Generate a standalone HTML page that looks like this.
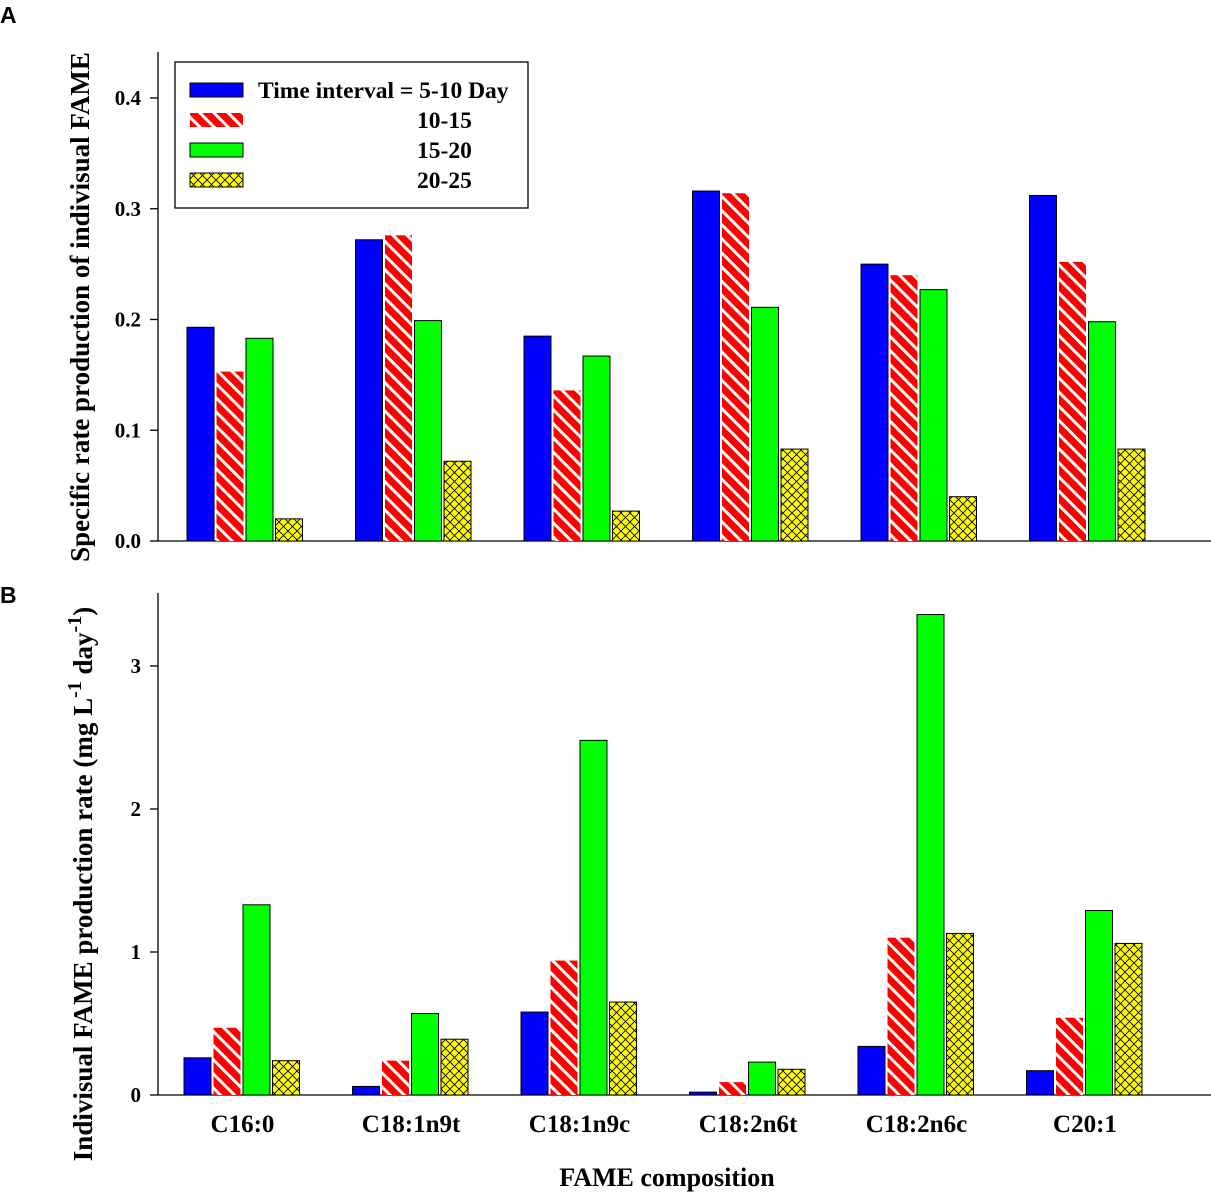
<!DOCTYPE html>
<html><head><meta charset="utf-8"><style>
body{margin:0;background:#fff}
svg text{font-family:"Liberation Serif",serif;font-weight:bold;fill:#000}
</style></head><body>
<svg id="c" width="1211" height="1192" xmlns="http://www.w3.org/2000/svg">
<defs>
<pattern id="stripe" patternUnits="userSpaceOnUse" width="10" height="10" patternTransform="rotate(-45)">
<rect width="10" height="10" fill="#ff0000"/><rect x="0" y="0" width="3" height="10" fill="#fff"/>
</pattern>
<pattern id="cross" patternUnits="userSpaceOnUse" width="9" height="9">
<rect width="9" height="9" fill="#ffff00"/><path d="M0,0L9,9M9,0L0,9" stroke="#000" stroke-width="0.9"/>
</pattern>
</defs>
<g id="g"></g>
</svg>
<script>
const categories=["C16:0","C18:1n9t","C18:1n9c","C18:2n6t","C18:2n6c","C20:1"];
const seriesNames=["Time interval = 5-10 Day","10-15","15-20","20-25"];
const aBlue=[0.193,0.272,0.185,0.316,0.250,0.312];
const aRed=[0.153,0.276,0.136,0.314,0.240,0.252];
const aGreen=[0.183,0.199,0.167,0.211,0.227,0.198];
const aYellow=[0.020,0.072,0.027,0.083,0.040,0.083];
const bBlue=[0.26,0.06,0.58,0.02,0.34,0.17];
const bRed=[0.47,0.24,0.94,0.09,1.10,0.54];
const bGreen=[1.33,0.57,2.48,0.23,3.36,1.29];
const bYellow=[0.24,0.39,0.65,0.18,1.13,1.06];
const aTicks=[0.0,0.1,0.2,0.3,0.4];
const bTicks=[0,1,2,3];
const NS="http://www.w3.org/2000/svg";
const g=document.getElementById('g');
function mk(t,a,txt){const e=document.createElementNS(NS,t);for(const k in a)e.setAttribute(k,a[k]);if(txt!==undefined)e.textContent=txt;g.appendChild(e);return e;}
const fills=["#0000ff","url(#stripe)","#00ff00","url(#cross)"];
const strokes=["#000","none","#000","#000"];
function panel(y0,pxPerUnit,top,data,ticks,fmt,xoff,name){
  const yS=v=>y0-v*pxPerUnit;
  const xS=i=>244.5+xoff+i*168.5;
  let e=mk('line',{x1:158,y1:top,x2:158,y2:y0,stroke:'#000','stroke-width':1.3});
  
  e=mk('line',{x1:158,y1:y0,x2:1211,y2:y0,stroke:'#000','stroke-width':1.3});
  
  ticks.forEach(t=>{
    e=mk('line',{x1:150,y1:yS(t),x2:158,y2:yS(t),stroke:'#000','stroke-width':1.3});
    
    e=mk('text',{x:141,y:yS(t)+7,'text-anchor':'end','font-size':21},fmt(t));
    
  });
  categories.forEach((c,i)=>{
    data.forEach((s,j)=>{
      const x=xS(i)-57.5+j*29.5;
      e=mk('rect',{x:x,y:yS(s[i]),width:27,height:y0-yS(s[i]),fill:fills[j],stroke:strokes[j],'stroke-width':1});
      
    });
  });
  return xS;
}
panel(541,1107.5,52,[aBlue,aRed,aGreen,aYellow],aTicks,t=>t.toFixed(1),0,'panel-a');
const xS=panel(1095,143,593,[bBlue,bRed,bGreen,bYellow],bTicks,t=>String(t),-3,'panel-b');
categories.forEach((c,i)=>{
  const e=mk('text',{x:xS(i)+1,y:1132,'text-anchor':'middle','font-size':25},c);
  
});
let e=mk('text',{x:667,y:1186,'text-anchor':'middle','font-size':26},"FAME composition");

e=mk('text',{x:0,y:0,'text-anchor':'middle','font-size':27,transform:'translate(89,307) rotate(-90)'},"Specific rate production of indivisual FAME");

e=mk('text',{x:0,y:0,'text-anchor':'middle','font-size':27,transform:'translate(92,884) rotate(-90)'});

e.innerHTML='Indivisual FAME production rate (mg L<tspan dy="-11" font-size="20">-1</tspan><tspan dy="11"> day</tspan><tspan dy="-11" font-size="20">-1</tspan><tspan dy="11">)</tspan>';
e=mk('text',{x:0,y:23,'font-size':23,style:'font-family:"Liberation Sans",sans-serif'},"A");

e=mk('text',{x:0,y:603,'font-size':23,style:'font-family:"Liberation Sans",sans-serif'},"B");

e=mk('rect',{x:175,y:62,width:353,height:146,fill:'#fff',stroke:'#000','stroke-width':1.3});

const ly=[90,120,150,180], lx=[258,417,417,417];
seriesNames.forEach((n,j)=>{
  e=mk('rect',{x:190,y:ly[j]-7,width:53,height:14,fill:fills[j],stroke:strokes[j],'stroke-width':1});
  
  e=mk('text',{x:lx[j],y:ly[j]+8,'font-size':23.5},n);
  
});
</script>
</body></html>
